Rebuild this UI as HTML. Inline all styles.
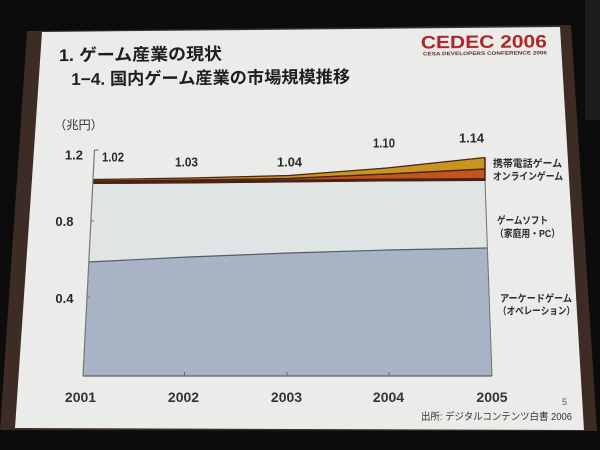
<!DOCTYPE html>
<html><head><meta charset="utf-8">
<style>
html,body{margin:0;padding:0;background:#0c0c0c;}
svg{display:block;}
text{font-family:"Liberation Sans","Noto Sans CJK JP",sans-serif;}
</style></head>
<body>
<svg width="600" height="450" viewBox="0 0 600 450" xmlns="http://www.w3.org/2000/svg">
  <rect x="0" y="0" width="600" height="450" fill="#0c0c0c"/>
  <rect x="585" y="0" width="15" height="120" fill="#1c1c1c"/>
  <!-- screen frame -->
  <polygon points="27,31 571,25 597,431 0,430" fill="#3d2b25"/>
  <!-- slide -->
  <polygon points="42,32 560,27 584,430 15,428" fill="#ebecea"/>

  <!-- title -->
  <g transform="rotate(-0.5 300 60)" fill="#1e1e1e" font-weight="bold">
    <text x="59" y="59" font-size="17" textLength="163" lengthAdjust="spacingAndGlyphs">1. ゲーム産業の現状</text>
    <text x="71" y="83" font-size="17" textLength="279" lengthAdjust="spacingAndGlyphs">1−4. 国内ゲーム産業の市場規模推移</text>
    <text x="421" y="49.5" font-size="18" fill="#ad272b" textLength="126" lengthAdjust="spacingAndGlyphs">CEDEC 2006</text>
    <text x="423" y="56.5" font-size="5" fill="#5a3030" textLength="124" lengthAdjust="spacingAndGlyphs">CESA DEVELOPERS CONFERENCE 2006</text>
  </g>

  <!-- unit -->
  <text x="54" y="129" font-size="12" fill="#333" textLength="49" lengthAdjust="spacingAndGlyphs">（兆円）</text>

  <!-- chart areas -->
  <!-- yellow mobile -->
  <polygon points="94,179.5 191,178 289,175.5 387,168 485,157.5 485,170 387,174.5 289,179 191,180.5 94,181.5" fill="#c8951f"/>
  <!-- orange online -->
  <polygon points="94,181 191,180 289,178.5 387,174 485,169 485,181 387,181.5 289,182.5 191,183.5 94,184" fill="#c2541d"/>
  <!-- gray console -->
  <polygon points="92.8,184 191,183.5 289,182.5 387,181.5 485,181 487.5,248 388,250 288.5,253 188.5,257 88.8,262" fill="#dfe5e4"/>
  <!-- blue arcade -->
  <polygon points="88.8,262 188.5,257 288.5,253 388,250 487.5,248 492,376 83,376" fill="#a8b4c6"/>

  <!-- band lines -->
  <polyline points="94,179.5 191,178 289,175.5 387,168 485,157.5" fill="none" stroke="#4a2318" stroke-width="1.3"/>
  <polyline points="94,181 191,180 289,178.5 387,174 485,169" fill="none" stroke="#4a2318" stroke-width="1.4"/>
  <polyline points="94,182.5 191,182 289,181 387,180 485,179.5" fill="none" stroke="#4a2318" stroke-width="3"/>
  <line x1="485" y1="157.5" x2="485" y2="181" stroke="#4a2318" stroke-width="1.5"/>
  <line x1="94" y1="179" x2="94" y2="184" stroke="#4a2318" stroke-width="1.5"/>
  <!-- arcade top line -->
  <polyline points="88.8,262 188.5,257 288.5,253 388,250 487.5,248" fill="none" stroke="#575c68" stroke-width="1.2"/>
  <!-- right edge -->
  <line x1="485" y1="181" x2="492" y2="376" stroke="#6f7078" stroke-width="1"/>
  <!-- bottom axis -->
  <line x1="83" y1="376" x2="492" y2="376" stroke="#5e6068" stroke-width="1.3"/>
  <line x1="184.5" y1="372" x2="184.5" y2="376" stroke="#666" stroke-width="1"/>
  <line x1="287" y1="372" x2="287" y2="376" stroke="#666" stroke-width="1"/>
  <line x1="389" y1="372" x2="389" y2="376" stroke="#666" stroke-width="1"/>
  <!-- left axis -->
  <line x1="94.5" y1="150" x2="83" y2="376" stroke="#777" stroke-width="1.2"/>
  <line x1="94.5" y1="150" x2="98.5" y2="150" stroke="#777" stroke-width="1.2"/>
  <line x1="90.9" y1="221" x2="94" y2="221" stroke="#777" stroke-width="1"/>
  <line x1="87" y1="297" x2="90" y2="297" stroke="#777" stroke-width="1"/>

  <!-- y labels -->
  <g font-weight="bold" font-size="13" fill="#2a2a2a" text-anchor="end">
    <text x="83" y="159.5">1.2</text>
    <text x="73.5" y="226">0.8</text>
    <text x="73.5" y="303">0.4</text>
  </g>

  <!-- data labels -->
  <g font-weight="bold" font-size="13" fill="#2a2a2a">
    <text x="102" y="161.5" textLength="22" lengthAdjust="spacingAndGlyphs">1.02</text>
    <text x="175" y="166.5" textLength="23" lengthAdjust="spacingAndGlyphs">1.03</text>
    <text x="277" y="166.5" textLength="25" lengthAdjust="spacingAndGlyphs">1.04</text>
    <text x="373" y="147.5" textLength="22" lengthAdjust="spacingAndGlyphs">1.10</text>
    <text x="459" y="142.5" textLength="25" lengthAdjust="spacingAndGlyphs">1.14</text>
  </g>

  <!-- x labels -->
  <g font-weight="bold" font-size="14" fill="#333" text-anchor="middle">
    <text x="80.5" y="402">2001</text>
    <text x="183.5" y="402">2002</text>
    <text x="286.5" y="402">2003</text>
    <text x="388.5" y="402">2004</text>
    <text x="492" y="402">2005</text>
  </g>

  <!-- legend labels -->
  <g font-weight="bold" font-size="10" fill="#2a2a2a">
    <text x="493" y="167" textLength="69" lengthAdjust="spacingAndGlyphs">携帯電話ゲーム</text>
    <text x="493" y="180" textLength="70" lengthAdjust="spacingAndGlyphs">オンラインゲーム</text>
    <text x="497" y="224" textLength="51" lengthAdjust="spacingAndGlyphs">ゲームソフト</text>
    <text x="495" y="237" textLength="65" lengthAdjust="spacingAndGlyphs">（家庭用・PC）</text>
    <text x="500" y="302" textLength="72" lengthAdjust="spacingAndGlyphs">アーケードゲーム</text>
    <text x="498" y="314.5" textLength="77" lengthAdjust="spacingAndGlyphs">（オペレーション）</text>
  </g>

  <!-- footnote -->
  <text x="421" y="420" font-size="10" fill="#333" textLength="151" lengthAdjust="spacingAndGlyphs">出所:  デジタルコンテンツ白書  2006</text>
  <text x="562" y="405" font-size="9" fill="#555" font-family="Liberation Serif, serif">5</text>
</svg>
</body></html>
